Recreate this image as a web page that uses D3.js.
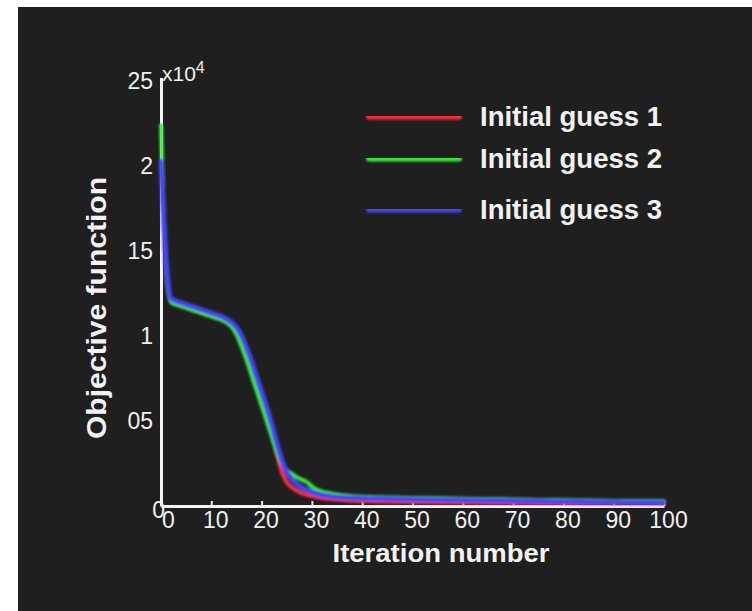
<!DOCTYPE html>
<html>
<head>
<meta charset="utf-8">
<script src="https://cdn.jsdelivr.net/npm/d3@7/dist/d3.min.js"></script>
<style>
    html, body { margin: 0; padding: 0; background: #ffffff; }
    svg { display: block; }
    .tick text { font-family: "Liberation Sans", Arial, sans-serif; font-size: 23px; fill: #f0f0f0; }
    .title { font-family: "Liberation Sans", Arial, sans-serif; font-weight: bold; fill: #f2f2f2; }
</style>
</head>
<body>
<script>
const WIDTH = 752;
const HEIGHT = 611;

const iterations = [0, 1, 2, 3, 4, 5, 6, 7, 8, 9, 10, 11, 12, 13, 14, 15, 16, 17, 18, 19, 20,
    21, 22, 23, 24, 25, 26, 27, 28, 29, 30, 31, 32, 33, 34, 35, 36, 37, 38, 39, 40,
    45, 50, 55, 60, 65, 70, 75, 80, 85, 90, 95, 100];

const guess1 = [2.02, 1.38, 1.20, 1.185, 1.175, 1.165, 1.155, 1.145, 1.135, 1.125, 1.115,
    1.105, 1.095, 1.08, 1.06, 1.02, 0.96, 0.88, 0.79, 0.70, 0.61,
    0.52, 0.42, 0.31, 0.20, 0.14, 0.11, 0.09, 0.076, 0.066, 0.058,
    0.052, 0.047, 0.043, 0.040, 0.037, 0.035, 0.033, 0.031, 0.030, 0.029,
    0.026, 0.024, 0.022, 0.021, 0.020, 0.019, 0.018, 0.017, 0.016, 0.016, 0.015, 0.015];

const guess2 = [2.24, 1.40, 1.20, 1.185, 1.175, 1.165, 1.155, 1.145, 1.135, 1.125, 1.115,
    1.105, 1.095, 1.08, 1.055, 1.01, 0.94, 0.86, 0.77, 0.68, 0.59,
    0.50, 0.41, 0.32, 0.25, 0.21, 0.19, 0.17, 0.155, 0.14, 0.115,
    0.095, 0.085, 0.078, 0.072, 0.068, 0.064, 0.061, 0.058, 0.056, 0.054,
    0.050, 0.047, 0.045, 0.042, 0.040, 0.038, 0.036, 0.034, 0.032, 0.030, 0.029, 0.028];

const guess3 = [2.03, 1.45, 1.22, 1.205, 1.195, 1.185, 1.175, 1.165, 1.155, 1.145, 1.135,
    1.125, 1.115, 1.10, 1.08, 1.05, 1.00, 0.93, 0.85, 0.76, 0.67,
    0.58, 0.48, 0.37, 0.27, 0.20, 0.16, 0.13, 0.11, 0.095, 0.082,
    0.072, 0.065, 0.060, 0.056, 0.053, 0.051, 0.049, 0.048, 0.047, 0.046,
    0.043, 0.040, 0.037, 0.035, 0.033, 0.031, 0.029, 0.027, 0.025, 0.023, 0.022, 0.020];

const seriesNames = ['Initial guess 1', 'Initial guess 2', 'Initial guess 3'];
const seriesColors = ['#f8303c', '#38e838', '#4444f6'];

const xTicks = [0, 10, 20, 30, 40, 50, 60, 70, 80, 90, 100];
const xTickLabels = ['0', '10', '20', '30', '40', '50', '60', '70', '80', '90', '100'];
const yTicks = [0, 0.5, 1, 1.5, 2, 2.5];
const yTickLabels = ['0', '05', '1', '15', '2', '25'];

const series = [guess1, guess2, guess3].map((values, i) => ({
    name: seriesNames[i],
    color: seriesColors[i],
    points: iterations.map((it, j) => ({x: it, y: values[j]}))
}));

const svg = d3.select('body')
    .append('svg')
    .attr('width', WIDTH)
    .attr('height', HEIGHT);

const defs = svg.append('defs');
defs.append('filter')
    .attr('id', 'soft')
    .attr('filterUnits', 'userSpaceOnUse')
    .attr('x', 0).attr('y', 0)
    .attr('width', WIDTH).attr('height', HEIGHT)
    .append('feGaussianBlur')
    .attr('stdDeviation', 0.9);

svg.append('rect')
    .attr('x', 18)
    .attr('y', 7)
    .attr('width', WIDTH - 18)
    .attr('height', HEIGHT - 7)
    .attr('fill', '#1f1f1f');

const x = d3.scaleLinear().domain([0, 100]).range([161, 664]);
const y = d3.scaleLinear().domain([0, 2.52]).range([506, 77.6]);

const xAxis = svg.append('g')
    .attr('transform', `translate(0,${y(0)})`)
    .call(d3.axisBottom(x)
        .tickValues(xTicks)
        .tickSize(-5)
        .tickSizeOuter(0)
        .tickPadding(6)
        .tickFormat((d, i) => xTickLabels[i]));

const yAxis = svg.append('g')
    .attr('transform', `translate(${x(0)},0)`)
    .call(d3.axisLeft(y)
        .tickValues(yTicks)
        .tickSize(0)
        .tickPadding(8)
        .tickFormat((d, i) => yTickLabels[i]));

svg.selectAll('.domain')
    .attr('stroke', '#f4f4f4')
    .attr('stroke-width', 3);
xAxis.selectAll('.tick line')
    .attr('stroke', '#e8e8e8')
    .attr('stroke-width', 2);
xAxis.selectAll('.tick text')
    .attr('dx', 4);
xAxis.selectAll('.tick')
    .filter(d => d === 0)
    .select('text')
    .attr('dx', 7);
yAxis.selectAll('.tick')
    .filter(d => d === 0)
    .select('text')
    .attr('dx', 12)
    .attr('dy', '0.5em');

// exponent marker above the y axis
const expo = svg.append('text')
    .attr('x', 162)
    .attr('y', 81)
    .attr('font-family', '"Liberation Sans", Arial, sans-serif')
    .attr('font-size', 21)
    .attr('fill', '#f0f0f0');
expo.append('tspan').text('x10');
expo.append('tspan')
    .attr('dy', -8)
    .attr('font-size', 16)
    .text('4');

const line = d3.line()
    .x(d => x(d.x))
    .y(d => y(d.y))
    .curve(d3.curveMonotoneX);

svg.append('g')
    .attr('filter', 'url(#soft)')
    .selectAll('path')
    .data(series)
    .join('path')
    .attr('d', d => line(d.points))
    .attr('fill', 'none')
    .attr('stroke', d => d.color)
    .attr('stroke-width', (d, i) => i === 2 ? 5 : 4)
    .attr('stroke-linejoin', 'round')
    .attr('stroke-linecap', 'round');

const legendY = [116, 158, 209];
const legend = svg.append('g')
    .selectAll('g')
    .data(series)
    .join('g')
    .attr('transform', (d, i) => `translate(0,${legendY[i]})`);

legend.append('rect')
    .attr('x', 366)
    .attr('y', -3.5)
    .attr('width', 96)
    .attr('height', 7)
    .attr('rx', 3)
    .attr('fill', d => d.color)
    .attr('filter', 'url(#soft)');

legend.append('text')
    .attr('class', 'title')
    .attr('x', 480)
    .attr('y', 10)
    .attr('font-size', 27)
    .attr('textLength', 182)
    .attr('lengthAdjust', 'spacingAndGlyphs')
    .text(d => d.name);

svg.append('text')
    .attr('class', 'title')
    .attr('x', 441)
    .attr('y', 562)
    .attr('text-anchor', 'middle')
    .attr('font-size', 26)
    .attr('textLength', 217)
    .attr('lengthAdjust', 'spacingAndGlyphs')
    .text('Iteration number');

svg.append('text')
    .attr('class', 'title')
    .attr('transform', 'translate(106,308) rotate(-90)')
    .attr('text-anchor', 'middle')
    .attr('font-size', 28)
    .attr('textLength', 262)
    .attr('lengthAdjust', 'spacingAndGlyphs')
    .text('Objective function');
</script>
</body>
</html>
